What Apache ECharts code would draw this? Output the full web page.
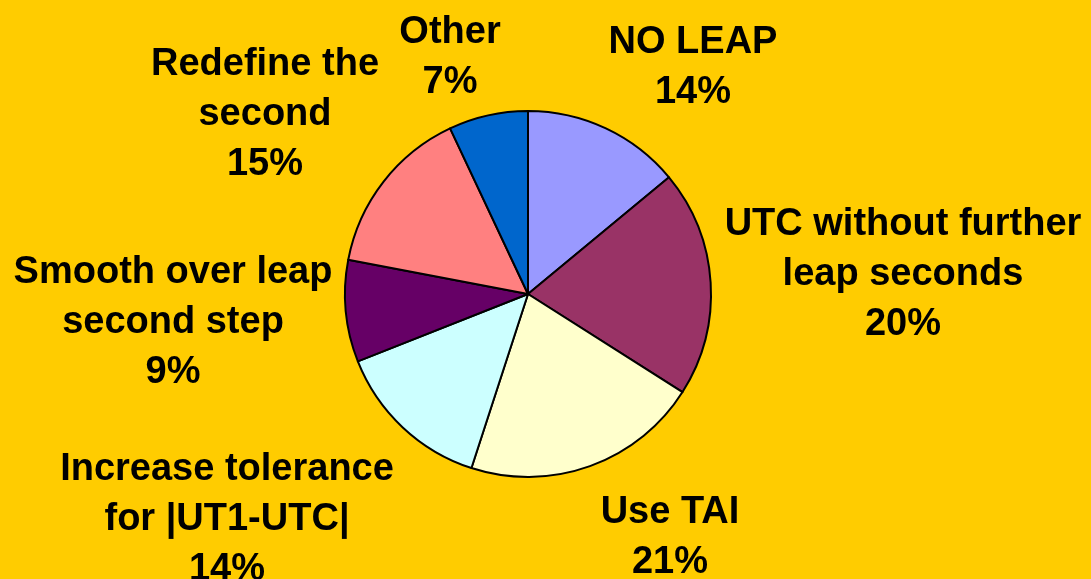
<!DOCTYPE html>
<html>
<head>
<meta charset="utf-8">
<script src="https://cdn.jsdelivr.net/npm/echarts@6/dist/echarts.min.js"></script>
<style>
html,body{margin:0;padding:0;background:#FFCC00;}
#chart{width:1091px;height:579px;}
</style>
</head>
<body>
<div id="chart"></div>
<script>
const categories = ['NO LEAP', 'UTC without further\nleap seconds', 'Use TAI', 'Increase tolerance\nfor |UT1-UTC|', 'Smooth over leap\nsecond step', 'Redefine the\nsecond', 'Other'];
const values = [14, 20, 21, 14, 9, 15, 7];
const colors = ['#9999FF', '#993366', '#FFFFCC', '#CCFFFF', '#660066', '#FF8080', '#0066CC'];
// label block centres (layout only)
const labelAnchors = [[693, 68], [903, 275], [670, 538], [227, 520], [173, 323], [265, 115], [450, 58]];

const chart = echarts.init(document.getElementById('chart'));
chart.setOption({
  backgroundColor: '#FFCC00',
  animation: false,
  series: [{
    type: 'pie',
    center: [528, 294],
    radius: 183,
    startAngle: 90,
    clockwise: true,
    avoidLabelOverlap: false,
    data: categories.map((c, i) => ({ name: c, value: values[i], itemStyle: { color: colors[i] } })),
    itemStyle: { borderColor: '#000000', borderWidth: 2 },
    label: {
      show: true,
      position: 'outside',
      formatter: '{b}\n{d}%',
      fontFamily: 'Liberation Sans, Arial, sans-serif',
      fontWeight: 'bold',
      fontSize: 38,
      lineHeight: 50,
      color: '#000000',
      align: 'center'
    },
    labelLine: { show: false },
    labelLayout: function (params) {
      const p = labelAnchors[params.dataIndex];
      return { x: p[0], y: p[1], align: 'center', verticalAlign: 'middle', hideOverlap: false };
    },
    emphasis: { disabled: true }
  }]
});
</script>
</body>
</html>
